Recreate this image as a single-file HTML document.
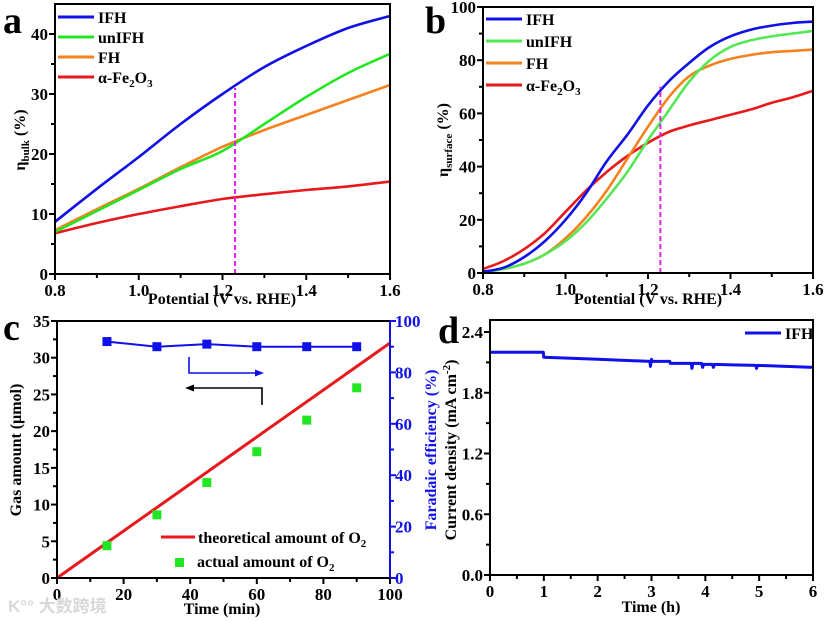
<!DOCTYPE html>
<html><head><meta charset="utf-8"><style>
html,body{margin:0;padding:0;background:#fff;}
svg{display:block;font-family:"Liberation Serif",serif;font-weight:bold;}
</style></head><body>
<svg id="fig" width="826" height="621" viewBox="0 0 826 621" xmlns="http://www.w3.org/2000/svg"></svg>
<script>
// ---- Panel a data ----
const aX = [0.8,0.9,1.0,1.1,1.2,1.3,1.4,1.5,1.6];
const aIFH = [8.7,14.2,19.5,25,30,34.5,38,41,43];
const aUnIFH = [7,10.5,14,17.5,20.5,25,29.5,33.5,36.7];
const aFH = [7.3,10.8,14.2,17.8,21.2,24,26.5,29,31.5];
const aFe = [6.8,8.5,10,11.3,12.5,13.3,14,14.6,15.4];
const aXTicks = ["0.8","1.0","1.2","1.4","1.6"];
const aYTicks = ["0","10","20","30","40"];
// ---- Panel b data ----
const bX = [0.8,0.85,0.9,0.95,1.0,1.05,1.1,1.15,1.2,1.25,1.3,1.35,1.4,1.45,1.5,1.55,1.6];
const bIFH = [0.5,2,6,12,20,30,42,52,63,72,79,85,89,91.5,93,94,94.5];
const bUnIFH = [0.3,1.5,3.5,7,12,19,28,38,50,61,72,80,85,87.5,89,90,91];
const bFH = [0.3,1.5,3.5,7,13,21,31,43,55,66,74,78,80.5,82,83,83.5,84];
const bFe = [1.5,4.5,9,15,23,31,38,44,49,53,55.5,57.5,59.5,61.5,64,66,68.5];
const bXTicks = ["0.8","1.0","1.2","1.4","1.6"];
const bYTicks = ["0","20","40","60","80","100"];
// ---- Panel c data ----
const cTheoX = [0,100];
const cTheoY = [0,32];
const cTime = [15,30,45,60,75,90];
const cActual = [4.4,8.6,13,17.2,21.5,25.9];
const cFE = [92,90,91,90,90,90];
const cXTicks = ["0","20","40","60","80","100"];
const cYTicks = ["0","5","10","15","20","25","30","35"];
const cY2Ticks = ["0","20","40","60","80","100"];
// ---- Panel d data ----
const dT = [0,0.99,1.0,1.5,2,2.5,2.97,2.98,3.0,3.02,3.34,3.35,3.74,3.75,3.77,3.93,3.95,3.97,4.13,4.15,4.17,4.5,4.94,4.95,4.97,5.5,6];
const dJ = [2.2,2.2,2.15,2.14,2.13,2.12,2.11,2.06,2.13,2.11,2.11,2.09,2.09,2.04,2.09,2.09,2.05,2.08,2.08,2.05,2.08,2.075,2.07,2.04,2.07,2.06,2.05];
const dXTicks = ["0","1","2","3","4","5","6"];
const dYTicks = ["0.0","0.6","1.2","1.8","2.4"];

const NS="http://www.w3.org/2000/svg";
const svg=document.getElementById('fig');
function el(tag,attrs,parent,text){const e=document.createElementNS(NS,tag);for(const k in attrs)e.setAttribute(k,attrs[k]);if(text!==undefined)e.textContent=text;(parent||svg).appendChild(e);return e;}
function lin(d0,d1,r0,r1){return v=>r0+(v-d0)/(d1-d0)*(r1-r0);}
function pathD(xs,ys,sx,sy){return xs.map((x,i)=>(i?'L':'M')+sx(x).toFixed(1)+','+sy(ys[i]).toFixed(1)).join(' ');}
function smoothD(xs,ys,sx,sy){const p=xs.map((x,i)=>[sx(x),sy(ys[i])]);let d='M'+p[0][0].toFixed(1)+','+p[0][1].toFixed(1);
  for(let i=0;i<p.length-1;i++){const p0=p[i-1]||p[i],p1=p[i],p2=p[i+1],p3=p[i+2]||p2;
    const c1=[p1[0]+(p2[0]-p0[0])/6,p1[1]+(p2[1]-p0[1])/6],c2=[p2[0]-(p3[0]-p1[0])/6,p2[1]-(p3[1]-p1[1])/6];
    d+=' C'+c1[0].toFixed(1)+','+c1[1].toFixed(1)+' '+c2[0].toFixed(1)+','+c2[1].toFixed(1)+' '+p2[0].toFixed(1)+','+p2[1].toFixed(1);}
  return d;}

function axes(g,o){
  const f=el('rect',{x:o.l,y:o.t,width:o.r-o.l,height:o.b-o.t,fill:'none',stroke:'#000','stroke-width':2},g);
  
  const xt=o.xTicks.map(Number), yt=o.yTicks.map(Number);
  o.xTicks.forEach((lab,i)=>{const x=o.sx(xt[i]);
    el('line',{x1:x,y1:o.b,x2:x,y2:o.b+6,stroke:'#000','stroke-width':2},g);
    const t=el('text',{x:x,y:o.b+22,'text-anchor':'middle','font-size':17},g,lab);
    
    if(i<xt.length-1){const xm=o.sx((xt[i]+xt[i+1])/2);el('line',{x1:xm,y1:o.b,x2:xm,y2:o.b+4,stroke:'#000','stroke-width':2},g);}
  });
  o.yTicks.forEach((lab,i)=>{const y=o.sy(yt[i]);
    el('line',{x1:o.l-6,y1:y,x2:o.l,y2:y,stroke:'#000','stroke-width':2},g);
    const t=el('text',{x:o.l-7,y:y+6,'text-anchor':'end','font-size':17},g,lab);
    
    if(i<yt.length-1){const ym=o.sy((yt[i]+yt[i+1])/2);el('line',{x1:o.l-4,y1:ym,x2:o.l,y2:ym,stroke:'#000','stroke-width':2},g);}
  });
}
function series(g,xs,ys,sx,sy,color,name,w,smooth){const p=el('path',{d:smooth?smoothD(xs,ys,sx,sy):pathD(xs,ys,sx,sy),fill:'none',stroke:color,'stroke-width':w||2.6,'stroke-linejoin':'round'},g);return p;}
function legend(g,x,y,dy,items){items.forEach((it,i)=>{const yy=y+i*dy;
  const l=el('line',{x1:x,y1:yy,x2:x+36,y2:yy,stroke:it[1],'stroke-width':3},g);
  
  const t=el('text',{x:x+40,y:yy+6,'font-size':16},g);t.innerHTML=it[0];
  });}
const FE='α-Fe<tspan font-size="11" dy="4">2</tspan><tspan dy="-4">O</tspan><tspan font-size="11" dy="4">3</tspan>';
const BLUE='#1010e8',GREEN='#22e622',ORANGE='#f5821f',RED='#e8191c';

// ===== Panel a =====
{const g=el('g',{});
 const o={l:55,r:390,t:4,b:274,xTicks:aXTicks,yTicks:aYTicks};
 o.sx=lin(0.8,1.6,o.l,o.r);o.sy=lin(0,45,o.b,o.t);
 series(g,aX,aFe,o.sx,o.sy,RED,'series-fe2o3',2.6,true);
 series(g,aX,aFH,o.sx,o.sy,ORANGE,'series-fh',2.6,true);
 series(g,aX,aUnIFH,o.sx,o.sy,GREEN,'series-unifh',2.6,true);
 series(g,aX,aIFH,o.sx,o.sy,BLUE,'series-ifh',2.6,true);
 const dl=el('line',{x1:o.sx(1.23),y1:o.sy(0),x2:o.sx(1.23),y2:o.sy(31),stroke:'#e020e0','stroke-width':2,'stroke-dasharray':'5,3'},g);
 
 axes(g,o);
 legend(g,58,17,20,[['IFH',BLUE],['unIFH',GREEN],['FH',ORANGE],[FE,RED]]);
 let t=el('text',{x:3,y:33,'font-size':38},g,'a');
 t=el('text',{x:222,y:304,'text-anchor':'middle','font-size':16},g,'Potential (V vs. RHE)');
 t=el('text',{transform:'translate(25,140) rotate(-90)','text-anchor':'middle','font-size':16},g);t.innerHTML='η<tspan font-size="11" dy="4">bulk</tspan><tspan dy="-4"> (%)</tspan>';
}
// ===== Panel b =====
{const g=el('g',{});
 const o={l:483,r:813,t:7,b:273,xTicks:bXTicks,yTicks:bYTicks};
 o.sx=lin(0.8,1.6,o.l,o.r);o.sy=lin(0,100,o.b,o.t);
 series(g,bX,bFe,o.sx,o.sy,RED,'series-fe2o3',2.6,true);
 series(g,bX,bFH,o.sx,o.sy,ORANGE,'series-fh',2.6,true);
 series(g,bX,bUnIFH,o.sx,o.sy,'#55e855','series-unifh',2.6,true);
 series(g,bX,bIFH,o.sx,o.sy,BLUE,'series-ifh',2.6,true);
 const dl=el('line',{x1:o.sx(1.23),y1:o.sy(0),x2:o.sx(1.23),y2:o.sy(70),stroke:'#e020e0','stroke-width':2,'stroke-dasharray':'5,3'},g);
 
 axes(g,o);
 legend(g,486,19,22,[['IFH',BLUE],['unIFH','#55e855'],['FH',ORANGE],[FE,RED]]);
 let t=el('text',{x:425,y:33,'font-size':38},g,'b');
 t=el('text',{x:648,y:304,'text-anchor':'middle','font-size':16},g,'Potential (V vs. RHE)');
 t=el('text',{transform:'translate(448,140) rotate(-90)','text-anchor':'middle','font-size':16},g);t.innerHTML='η<tspan font-size="11" dy="4">surface</tspan><tspan dy="-4"> (%)</tspan>';
}
// ===== Panel c =====
{const g=el('g',{});
 const o={l:57,r:390,t:321,b:578,xTicks:cXTicks,yTicks:cYTicks};
 o.sx=lin(0,100,o.l,o.r);o.sy=lin(0,35,o.b,o.t);
 const sy2=lin(0,100,o.b,o.t);
 series(g,cTheoX,cTheoY,o.sx,o.sy,RED,'theoretical-o2-line',3);
 cTime.forEach((x,i)=>{const r=el('rect',{x:o.sx(x)-4.5,y:o.sy(cActual[i])-4.5,width:9,height:9,fill:GREEN},g);});
 series(g,cTime,cFE,o.sx,sy2,BLUE,'faradaic-efficiency-line',2);
 cTime.forEach((x,i)=>{const r=el('rect',{x:o.sx(x)-4.5,y:sy2(cFE[i])-4.5,width:9,height:9,fill:BLUE},g);});
 axes(g,o);
 const ra=el('line',{x1:o.r,y1:o.t,x2:o.r,y2:o.b,stroke:BLUE,'stroke-width':2},g);
 cY2Ticks.forEach((lab,i)=>{const v=Number(lab),y=sy2(v);
  el('line',{x1:o.r,y1:y,x2:o.r+6,y2:y,stroke:BLUE,'stroke-width':2},g);
  if(i<cY2Ticks.length-1){const ym=sy2(v+10);el('line',{x1:o.r,y1:ym,x2:o.r+4,y2:ym,stroke:BLUE,'stroke-width':2},g);}
  const t=el('text',{x:o.r+5,y:y+6,'font-size':17,fill:BLUE},g,lab);});
 let a=el('path',{d:'M189,357 L189,373 L258,373',fill:'none',stroke:BLUE,'stroke-width':1.6},g);
 el('path',{d:'M264,373 L255,369.5 L255,376.5 Z',fill:BLUE},g);
 a=el('path',{d:'M262,405 L262,388 L191,388',fill:'none',stroke:'#000','stroke-width':1.6},g);
 el('path',{d:'M185,388 L194,384.5 L194,391.5 Z',fill:'#000'},g);
 let l=el('line',{x1:161,y1:537,x2:195,y2:537,stroke:RED,'stroke-width':3},g);
 let t=el('text',{x:198,y:543,'font-size':16},g);t.innerHTML='theoretical amount of O<tspan font-size="11" dy="4">2</tspan>';
 l=el('rect',{x:175,y:558,width:9,height:9,fill:GREEN},g);
 t=el('text',{x:197,y:567,'font-size':16},g);t.innerHTML='actual amount of O<tspan font-size="11" dy="4">2</tspan>';
 t=el('text',{x:3,y:340,'font-size':38},g,'c');
 t=el('text',{x:222,y:614,'text-anchor':'middle','font-size':16},g,'Time (min)');
 t=el('text',{transform:'translate(21,450) rotate(-90)','text-anchor':'middle','font-size':16},g,'Gas amount (μmol)');
 t=el('text',{transform:'translate(436,450) rotate(-90)','text-anchor':'middle','font-size':16,fill:BLUE},g,'Faradaic efficiency (%)');
 t=el('text',{x:8,y:612,'font-size':17,fill:'#d8d8d8','font-family':'"Liberation Sans","Noto Sans CJK SC",sans-serif'},g,'K°° 大数跨境');
}
// ===== Panel d =====
{const g=el('g',{});
 const o={l:490,r:813,t:320,b:575,xTicks:dXTicks,yTicks:dYTicks};
 o.sx=lin(0,6,o.l,o.r);o.sy=lin(0,2.4,o.b,o.t+12);
 series(g,dT,dJ,o.sx,o.sy,BLUE,'series-ifh-current',3);
 axes(g,o);
 legend(g,745,333,20,[['IFH',BLUE]]);
 let t=el('text',{x:438,y:343,'font-size':38},g,'d');
 t=el('text',{x:651,y:612,'text-anchor':'middle','font-size':16},g,'Time (h)');
 t=el('text',{transform:'translate(456,450) rotate(-90)','text-anchor':'middle','font-size':16},g);t.innerHTML='Current density (mA cm<tspan font-size="11" dy="-6">-2</tspan><tspan dy="6">)</tspan>';
}
</script>
</body></html>
